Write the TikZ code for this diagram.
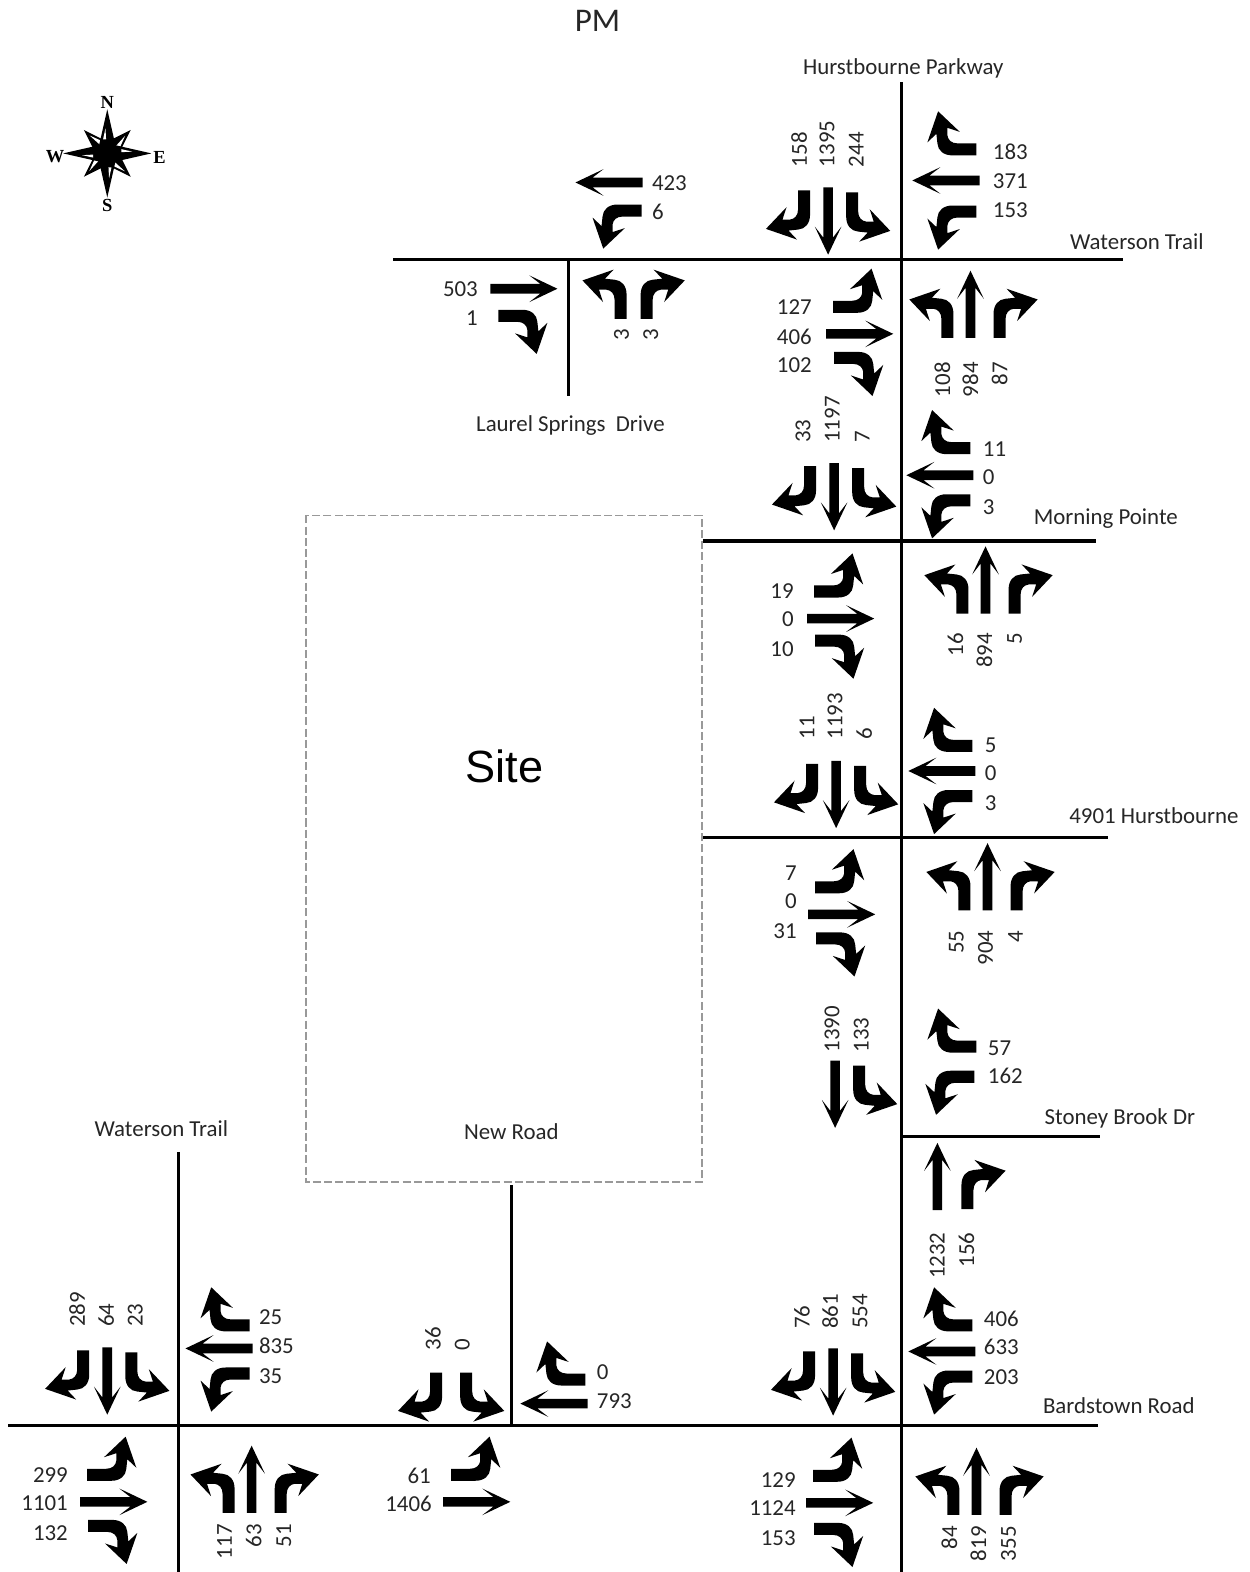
\documentclass[tikz,border=0pt]{standalone}
\usepackage{fontspec}
\setmainfont{Carlito}
\newfontfamily\sitefont{Liberation Sans}
\newfontfamily\compfont{Liberation Serif}
\newcommand{\turnshape}{(6,0) -- (6,-24) .. controls (6,-33) and (1,-38.5) .. (-6,-39) -- (-15.5,-40) -- (-7,-49) -- (-38,-38.3) -- (-17.5,-16.7) -- (-21.5,-29) -- (-14,-29) .. controls (-9.5,-28.5) and (-6,-25) .. (-6,-19) -- (-6,0) -- cycle}
\tikzset{
  x=0.5pt,y=-0.5pt,
  road/.style={line width=1.65pt},
  numfont/.style={font=\fontsize{11.4}{14}\selectfont,inner sep=0pt,text=black!85},
  numl/.style={numfont,anchor=west,yshift=-0.3pt},
  numr/.style={numfont,anchor=east,yshift=-0.3pt},
  numb/.style={numfont,yshift=-0.5pt,rotate=90,anchor=west},
  numt/.style={numfont,rotate=90,anchor=east},
  lab/.style={font=\fontsize{11.4}{14}\selectfont,inner sep=0pt,text=black!85,yshift=-0.4pt},
  sitebox/.style={draw=black!40,line width=0.8pt,dash pattern=on 4pt off 1.6pt},
  comp/.style={font=\compfont\bfseries\fontsize{9.2}{10}\selectfont,inner sep=0pt},
  thru/.pic={\fill (-4.8,0) -- (-4.8,-50) -- (-13.3,-39) -- (0,-67) -- (13.3,-39) -- (4.8,-50) -- (4.8,0) -- cycle;},
  lturn/.pic={\fill \turnshape;},
  rturn/.pic={\begin{scope}[xscale=-1]\fill \turnshape;\end{scope}}
}
\newcommand{\arr}[4]{\pic[rotate=#4] at (#2,#3) {#1};}
\newcommand{\SBg}[2]{\arr{thru}{#1}{#2}{180}\arr{rturn}{\numexpr#1-24\relax}{\numexpr#2+3\relax}{180}\arr{lturn}{\numexpr#1+24\relax}{\numexpr#2+5\relax}{180}}
\newcommand{\NBg}[2]{\arr{thru}{#1}{#2}{0}\arr{lturn}{\numexpr#1-23\relax}{#2}{0}\arr{rturn}{\numexpr#1+29\relax}{#2}{0}}
% thru x, thru y, rturn dy (up), lturn dy (down)
\newcommand{\WBg}[4]{\arr{thru}{#1}{#2}{90}\arr{rturn}{\numexpr#1-3\relax}{\numexpr#2-#3\relax}{90}\arr{lturn}{\numexpr#1-3\relax}{\numexpr#2+#4\relax}{90}}
% thru x, thru y, rturn dy (down)
\newcommand{\EBg}[3]{\arr{thru}{#1}{#2}{-90}\arr{lturn}{\numexpr#1+7\relax}{\numexpr#2-27\relax}{-90}\arr{rturn}{\numexpr#1+8\relax}{\numexpr#2+#3\relax}{-90}}
\newcommand{\nl}[3]{\node[numl] at (#1,#2) {#3};}
\newcommand{\nr}[3]{\node[numr] at (#1,#2) {#3};}
\newcommand{\nb}[3]{\node[numb] at (#1,#2) {#3};}
\newcommand{\nt}[3]{\node[numt] at (#1,#2) {#3};}
\begin{document}
\begin{tikzpicture}
\useasboundingbox (0,0) rectangle (1246,1568);
% site
\draw[sitebox] (305,514) rectangle (700,1179);
% roads
\coordinate (hn) at (899,82); \coordinate (hs) at (899,1568);
\draw[road] (hn) -- (hs);
\draw[road] (392,258.6) -- (1120,258.6);
\draw[road] (567,258) -- (567,395);
\draw[road] (701,539.7) -- (1093,539.7);
\draw[road] (701,835.7) -- (1105,835.7);
\draw[road] (899,1133.7) -- (1097,1133.7);
\draw[road] (8,1421.7) -- (1095,1421.7);
\draw[road] (510,1182) -- (510,1421);
\draw[road] (178,1149) -- (178,1568);
% labels
\node[font=\fontsize{16.5}{18}\selectfont,inner sep=0pt,text=black!85] (pm) at (596,21) {PM};
\node[font=\sitefont\fontsize{22.5}{26}\selectfont,inner sep=0pt] (site) at (503,764) {Site};
\node[lab] (l1) at (901,67) {Hurstbourne Parkway};
\node[lab] (l2) at (1134,240) {Waterson Trail};
\node[lab] (l3) at (569,424) {Laurel Springs\ \ Drive};
\node[lab] (l4) at (1103,516) {Morning Pointe};
\node[lab] (l5) at (1151,813) {4901 Hurstbourne};
\node[lab] (l6) at (1117,1115) {Stoney Brook Dr};
\node[lab] (l7) at (1116,1401) {Bardstown Road};
\node[lab] (l8) at (510,1128) {New Road};
\node[lab] (l9) at (161,1125) {Waterson Trail};
% compass
\begin{scope}[shift={(107,153)}]
  \foreach \a in {45,135,225,315}{
    \begin{scope}[rotate=\a]
      \fill (0,-11) -- (33,0) -- (0,11) -- cycle;
      \fill[white] (9,1) -- (25,0.2) -- (11,5.5) -- cycle;
    \end{scope}
  }
  \foreach \a in {0,90,180,270}{
    \begin{scope}[rotate=\a]
      \fill (0,-10) -- (44,0) -- (0,10) -- cycle;
      \fill[white] (14,-4.2) -- (25,-1.8) -- (14,-1.2) -- cycle;
    \end{scope}
  }
  \fill (0,0) circle (7);
\end{scope}
\node[comp] (cn) at (107,102) {N};
\node[comp] (cs) at (107,205) {S};
\node[comp] (cw) at (55,156) {W};
\node[comp] (ce) at (159,157) {E};
% Hurstbourne / Waterson
\SBg{826}{187}
\nb{797}{166}{158}\nb{825}{166}{1395}\nb{854}{166}{244}
\WBg{977}{180}{31}{31}
\nl{990}{151}{183}\nl{990}{180}{371}\nl{990}{209}{153}
\NBg{968}{337}
\nt{940}{361}{108}\nt{968}{361}{984}\nt{997}{361}{87}
\EBg{824}{333}{24}
\nr{810}{306}{127}\nr{810}{335}{406}\nr{810}{364}{102}
% Laurel Springs
\arr{thru}{641}{182}{90}\arr{lturn}{640}{210}{90}
\nl{650}{182}{423}\nl{650}{211}{6}
\arr{thru}{489}{288}{-90}\arr{rturn}{497}{315}{-90}
\nr{477}{288}{503}\nr{477}{317}{1}
\arr{lturn}{619}{318}{0}\arr{rturn}{645}{318}{0}
\nt{620}{328}{3}\nt{649}{328}{3}
% Morning Pointe
\SBg{832}{462}
\nb{801}{441}{33}\nb{830}{441}{1197}\nb{860}{441}{7}
\WBg{971}{474}{27}{25}
\nl{980}{447}{11}\nl{980}{475}{0}\nl{980}{505}{3}
\NBg{983}{612}
\nt{953}{631}{16}\nt{982}{631}{894}\nt{1012}{631}{5}
\EBg{805}{617}{22}
\nr{792}{589}{19}\nr{792}{617}{0}\nr{792}{647}{10}
% 4901
\SBg{834}{759}
\nb{805}{737}{11}\nb{833}{737}{1193}\nb{862}{737}{6}
\WBg{973}{769}{25}{25}
\nl{982}{743}{5}\nl{982}{771}{0}\nl{982}{801}{3}
\NBg{985}{908}
\nt{954}{928}{55}\nt{983}{928}{904}\nt{1013}{928}{4}
\EBg{806}{912}{24}
\nr{795}{870}{7}\nr{795}{898}{0}\nr{795}{928}{31}
% Stoney Brook
\arr{thru}{833}{1058}{180}\arr{lturn}{857}{1063}{180}
\nb{830}{1049}{1390}\nb{859}{1049}{133}
\arr{rturn}{974}{1044}{90}\arr{lturn}{972}{1074}{90}
\nl{985}{1045}{57}\nl{985}{1073}{162}
\arr{thru}{935}{1207}{0}\arr{rturn}{965}{1206}{0}
\nt{935}{1229}{1232}\nt{964}{1229}{156}
% Bardstown right
\SBg{831}{1345}
\nb{800}{1325}{76}\nb{828}{1325}{861}\nb{858}{1325}{554}
\WBg{973}{1348}{26}{25}
\nl{981}{1315}{406}\nl{981}{1343}{633}\nl{981}{1373}{203}
\NBg{974}{1511}
\nt{947}{1522}{84}\nt{976}{1522}{819}\nt{1006}{1522}{355}
\EBg{804}{1499}{26}
\nr{794}{1476}{129}\nr{794}{1504}{1124}\nr{794}{1534}{153}
% New Road
\arr{lturn}{465}{1369}{180}\arr{rturn}{435}{1369}{180}
\nb{432}{1346}{36}\nb{461}{1346}{0}
\arr{thru}{586}{1400}{90}\arr{rturn}{584}{1376}{90}
\nl{595}{1368}{0}\nl{595}{1397}{793}
\arr{thru}{442}{1498}{-90}\arr{lturn}{450}{1471}{-90}
\nr{430}{1471}{61}\nr{431}{1499}{1406}
% Waterson / Bardstown left
\SBg{107}{1344}
\nb{77}{1323}{289}\nb{106}{1323}{64}\nb{135}{1323}{23}
\WBg{252}{1345}{23}{25}
\nl{258}{1313}{25}\nl{258}{1342}{835}\nl{258}{1372}{35}
\NBg{251}{1509}
\nt{224}{1520}{117}\nt{253}{1520}{63}\nt{283}{1520}{51}
\EBg{80}{1498}{24}
\nr{68}{1471}{299}\nr{68}{1499}{1101}\nr{68}{1529}{132}
\end{tikzpicture}
\end{document}
